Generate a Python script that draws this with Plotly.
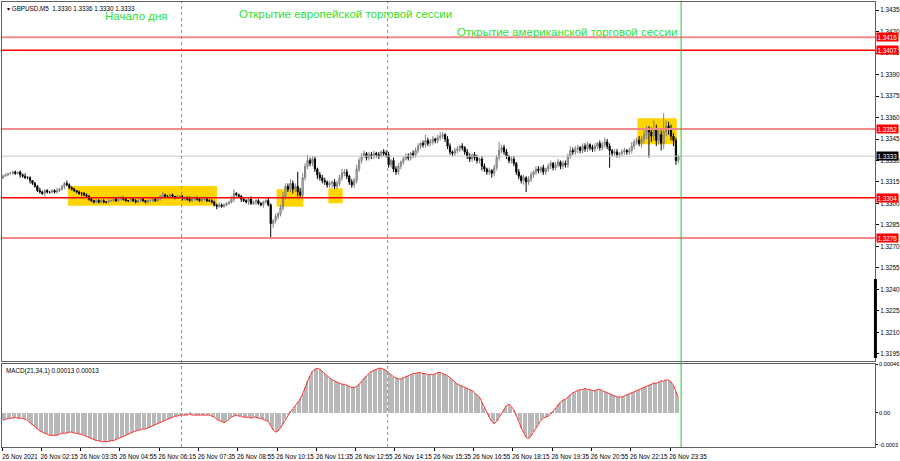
import plotly.graph_objects as go

# ---------------- data (pips above 1.3300 for price, 1e-5 units for MACD) ----------------
BASE = 1.3300
first_open = 18
closes = [
    19, 20, 21, 21, 22, 21, 22,
    20, 19, 18, 18, 16,
    14, 12,
    9, 8, 7, 9, 8, 8, 9, 8, 9, 10,
    12, 14, 13,
    11, 10, 9, 8, 7, 7, 6, 5,
    3, 2, 1, 2, 1, 2, 1, 1, 2, 2, 3, 2, 3, 4, 3, 2, 2, 3, 2, 1, 2, 3, 2, 1, 2, 2, 3, 2, 3,
    5, 6, 5, 5, 6, 5, 4, 5, 5,
    3, 4, 3, 2, 3, 4, 3, 2, 3, 3, 2, 2, 1,
    -1, -2, -1, -2, -1, 0, 1, 3,
    7, 6, 5, 3,
    2, 1, 3, 0, 1, 2, 0, -1, 1, 2, -1,
    -14,
    -12, -9, -7, -3,
    5, 12, 10,
    14, 10, 12, 8, 6,
    18, 26, 30, 28, 31,
    24, 20, 18, 16,
    15, 13, 14, 15, 12, 14,
    18, 21, 22, 19,
    15, 13, 16,
    24, 30,
    33, 35, 32, 34, 33, 35, 34, 33, 36, 35, 34,
    27, 30, 24, 22, 26,
    29, 31, 33, 32, 35, 34, 37,
    40, 42, 41, 44, 42, 43, 45, 44,
    46, 47, 48, 45,
    40, 36, 35, 37,
    38, 40, 39, 36,
    33, 31, 34, 32, 30, 31,
    26, 24, 22, 23, 21, 25,
    32, 37, 39, 36,
    33, 30, 31, 28,
    22, 19, 16, 18, 15, 17,
    20, 22, 24, 23, 25, 22, 24,
    26, 28, 25, 27, 29, 26, 28, 27,
    33, 37, 36, 38,
    39, 37, 40, 38, 41, 39, 38,
    40, 42, 39, 41, 43, 40,
    37, 35, 36, 34,
    35, 36, 37, 36, 37,
    40, 43, 44, 42, 45,
    48, 51, 50, 47, 52,
    44, 48, 42,
    50, 54, 52,
    47, 44, 30, 33,
]
up_wick = [
    1, 1, 0, 1, 1, 1, 0, 1, 1, 2, 1, 1, 0, 1, 1, 2, 1, 1, 1, 0,
    1, 1, 2, 1, 1, 1, 2, 1, 1, 1, 0, 1, 1, 1, 1, 1, 1, 0, 1, 1,
    1, 1, 0, 1, 1, 1, 1, 2, 1, 1, 1, 0, 1, 1, 1, 1, 1, 1, 0, 1,
    1, 1, 1, 1, 1, 2, 1, 1, 1, 1, 0, 1, 1, 1, 1, 1, 2, 1, 1, 1,
    1, 0, 1, 1, 1, 1, 1, 1, 2, 1, 1, 1, 1, 2, 3, 1, 1, 1, 1, 1,
    1, 2, 1, 1, 1, 1, 1, 1, 2, 1, 1, 2, 1, 2, 3, 2, 2, 3, 2, 2,
    10, 3, 3, 2, 4, 2, 2, 2, 1, 2, 2, 2, 1, 2, 1, 2, 2, 2, 3, 2,
    2, 1, 2, 2, 3, 2, 2, 2, 1, 2, 2, 2, 1, 2, 1, 2, 2, 2, 1, 2,
    2, 2, 1, 2, 2, 2, 1, 2, 2, 2, 1, 2, 4, 2, 2, 2, 1, 2, 3, 2,
    1, 2, 2, 1, 2, 2, 1, 2, 1, 2, 2, 1, 2, 2, 1, 2, 2, 1, 2, 1,
    2, 2, 6, 2, 2, 2, 1, 2, 2, 1, 2, 1, 2, 1, 2, 2, 1, 2, 2, 1,
    2, 1, 2, 2, 1, 2, 2, 1, 2, 2, 2, 3, 2, 2, 2, 1, 2, 2, 2, 1,
    2, 2, 1, 2, 2, 3, 2, 2, 1, 2, 2, 1, 2, 2, 1, 2, 3, 2, 2, 3,
    2, 4, 3, 3, 3, 6, 3, 4, 3, 13, 4, 3, 3, 2, 2, 1,
]
down_wick = [
    1, 0, 1, 1, 1, 1, 1, 2, 1, 1, 1, 2, 1, 1, 1, 1, 1, 2, 1, 1,
    1, 1, 1, 1, 1, 2, 1, 1, 1, 1, 1, 1, 2, 1, 1, 1, 1, 1, 1, 1,
    1, 1, 1, 1, 1, 1, 1, 1, 1, 1, 1, 1, 1, 1, 1, 1, 1, 1, 1, 1,
    1, 1, 1, 1, 1, 1, 1, 1, 1, 1, 1, 1, 1, 1, 1, 1, 1, 1, 1, 1,
    1, 1, 1, 1, 1, 1, 1, 2, 1, 1, 1, 1, 1, 1, 2, 1, 1, 2, 1, 1,
    2, 1, 1, 2, 1, 1, 2, 1, 1, 10, 3, 2, 2, 2, 2, 2, 2, 2, 3, 2,
    3, 2, 3, 2, 2, 2, 2, 2, 3, 2, 2, 2, 2, 2, 3, 2, 2, 2, 2, 2,
    2, 2, 2, 2, 2, 2, 2, 1, 2, 2, 2, 2, 2, 2, 1, 2, 2, 2, 2, 2,
    2, 2, 2, 2, 1, 2, 2, 2, 2, 2, 2, 2, 2, 2, 2, 2, 2, 2, 2, 2,
    2, 2, 2, 2, 2, 2, 2, 2, 2, 2, 2, 2, 2, 2, 2, 3, 2, 2, 2, 3,
    2, 2, 2, 2, 2, 2, 2, 2, 2, 2, 2, 2, 3, 7, 2, 2, 2, 2, 2, 2,
    2, 2, 2, 2, 2, 2, 2, 2, 2, 2, 2, 2, 2, 2, 3, 2, 2, 2, 2, 2,
    2, 2, 2, 2, 2, 2, 2, 12, 2, 2, 2, 2, 2, 2, 2, 2, 2, 2, 2, 2,
    3, 3, 3, 18, 4, 3, 4, 3, 5, 4, 3, 4, 3, 4, 3, 2,
]
macd = [
    -7, -6, -5,
    -5, -5, -4, -5, -5, -5,
    -6, -7, -9,
    -11, -13, -15, -17, -18,
    -19, -20, -21, -21, -21, -21, -20, -19, -19,
    -19, -18, -18, -19, -19, -20, -20, -21,
    -22, -23, -24, -25,
    -26, -26, -27, -27, -27, -27, -26, -26, -25,
    -24, -23, -22, -21, -20, -19, -18, -17, -16, -16,
    -15, -15, -14, -13, -12, -11, -10, -9, -8, -7,
    -6, -5, -4, -3, -3,
    -2, -2, -2, -2, -1, -2, -2, -2, -2, -2, -2, -2, -2, -3, -4,
    -6, -7, -8, -9, -8, -6, -4,
    -3, -2, -3, -3, -4,
    -4, -4, -5, -4, -4, -5, -5, -6, -7, -8,
    -12, -16, -18, -17, -14,
    -10, -6, -2, 1, 4, 7, 10, 13,
    18, 24, 30, 35, 39, 41, 42,
    41, 39, 37, 35, 33, 31, 30, 29, 28, 27, 27, 26,
    25, 24, 24, 25, 27,
    30, 33, 35, 37, 39, 40, 41, 42, 42, 41, 40,
    38, 36, 34, 33, 32, 32,
    33, 34, 35, 36, 37, 37, 38, 38, 37, 37, 36, 36, 36, 37,
    38, 38, 37, 36, 35, 33, 31, 29,
    27, 26, 25, 24, 23, 22, 21, 19, 17, 15,
    10, 5, 0, -4, -8, -10,
    -8, -4, 0, 4, 7, 8, 6, 3,
    -2, -8, -14, -19, -23, -24,
    -22, -18, -14, -10, -7, -5, -4,
    -3, -1, 2, 5, 8, 10, 12, 13,
    15, 17, 19, 20, 21, 22, 22, 23, 22, 22, 21,
    21, 22, 22, 21, 20, 19, 18, 17, 16, 15,
    15, 15, 16, 17, 18, 19, 20, 21, 22, 23,
    24, 25, 26, 27, 28, 28, 29, 30, 30, 31, 31,
    29, 26, 20, 14,
]

x_labels = ["26 Nov 2021", "26 Nov 02:15", "26 Nov 03:35", "26 Nov 04:55", "26 Nov 06:15",
            "26 Nov 07:35", "26 Nov 08:55", "26 Nov 10:15", "26 Nov 11:35", "26 Nov 12:55",
            "26 Nov 14:15", "26 Nov 15:35", "26 Nov 16:55", "26 Nov 18:15", "26 Nov 19:35",
            "26 Nov 20:55", "26 Nov 22:15", "26 Nov 23:35"]
price_ticks = [1.3195, 1.3210, 1.3225, 1.3240, 1.3255, 1.3270, 1.3285, 1.3300, 1.3315,
               1.3330, 1.3345, 1.3360, 1.3375, 1.3390, 1.3405, 1.3420, 1.3435]
levels = [1.3416, 1.3407, 1.3352, 1.3304, 1.3276]
level_strong = [False, True, False, True, False]
current_price = 1.3333
# zones: (first bar, last bar, top pips, bottom pips)
zones = [(26.5, 87.1, 12.2, -1.5), (111.4, 122.3, 10.0, -2.2),
         (132.5, 138.3, 10.6, 0.1), (258.3, 274.3, 59.4, 41.3)]
session_dashed = [72.7, 156.6]
session_solid = 276.1
texts = [("Начало дня", 40.7, 1.34308), ("Открытие европейской торговой сессии", 95.3, 1.34322),
         ("Открытие американской торговой сессии", 184.0, 1.34197)]
macd_ticks = [0.00046, 0.0, -0.0003]
macd_ticktext = ["0.00046", "0.00", "-0.0003"]

assert len(closes) == len(up_wick) == len(down_wick) == len(macd)

# ---------------- build ----------------
n = len(closes)
xs = list(range(n))
opens_p = [first_open] + closes[:-1]
o = [BASE + v / 10000 for v in opens_p]
c = [BASE + v / 10000 for v in closes]
h = [BASE + (max(a, b) + u) / 10000 for a, b, u in zip(opens_p, closes, up_wick)]
l = [BASE + (min(a, b) - d) / 10000 for a, b, d in zip(opens_p, closes, down_wick)]
m = [v * 1e-5 for v in macd]

FONT = "Liberation Sans"
SMALL = 6.3
fig = go.Figure()
fig.add_trace(go.Candlestick(
    x=xs, open=o, high=h, low=l, close=c, xaxis="x", yaxis="y",
    increasing=dict(line=dict(color="#808080", width=1), fillcolor="#c4c4c4"),
    decreasing=dict(line=dict(color="#000000", width=1), fillcolor="#000000"),
    whiskerwidth=0, showlegend=False, hoverinfo="skip"))
fig.add_trace(go.Bar(x=xs, y=m, xaxis="x2", yaxis="y2", width=0.45,
                     marker=dict(color="#b8b8b8", line=dict(width=0)),
                     showlegend=False, hoverinfo="skip"))
fig.add_trace(go.Scatter(x=xs, y=m, xaxis="x2", yaxis="y2", mode="lines",
                         line=dict(color="#ff3030", width=1),
                         showlegend=False, hoverinfo="skip"))

XR = [-0.41, 355.05]
LINE = "#606060"
shapes = []
for x0, x1, top, bot in zones:
    shapes.append(dict(type="rect", xref="x", yref="y", x0=x0, x1=x1,
                       y0=BASE + bot / 10000, y1=BASE + top / 10000,
                       fillcolor="#ffd400", line=dict(width=0), layer="below"))
shapes.append(dict(type="line", xref="paper", yref="y", x0=0, x1=1,
                   y0=current_price, y1=current_price, line=dict(color="#c8c8c8", width=1)))
for lv, strong in zip(levels, level_strong):
    shapes.append(dict(type="line", xref="paper", yref="y", x0=0, x1=1, y0=lv, y1=lv,
                       line=dict(color="#ff0000" if strong else "#f38a8a",
                                 width=1.5 if strong else 2)))
for sx in session_dashed:
    shapes.append(dict(type="line", xref="x", yref="paper", x0=sx, x1=sx, y0=0, y1=1,
                       line=dict(color="#33cc33", width=1, dash="dot")))
shapes.append(dict(type="line", xref="x", yref="paper", x0=session_solid, x1=session_solid,
                   y0=0, y1=1, line=dict(color="#22cc22", width=1)))
shapes.append(dict(type="line", xref="paper", yref="y", x0=1.0005, x1=1.0005,
                   y0=1.31922, y1=1.32473, line=dict(color="#000000", width=3)))

annotations = []
for txt, bx, py in texts:
    annotations.append(dict(text=txt, x=bx, y=py, xref="x", yref="y", xanchor="left",
                            yanchor="middle", showarrow=False,
                            font=dict(family=FONT, size=11.5, color="#2fe02f")))
for lv, strong in zip(levels, level_strong):
    annotations.append(dict(text=f"{lv:.4f}", x=1, y=lv, xref="paper", yref="y",
                            xanchor="left", yanchor="middle", showarrow=False, xshift=1,
                            bgcolor="#ff0000", borderpad=0.5,
                            font=dict(family=FONT, size=SMALL, color="#ffffff")))
annotations.append(dict(text=f"{current_price:.4f}", x=1, y=current_price, xref="paper",
                        yref="y", xanchor="left", yanchor="middle", showarrow=False,
                        xshift=1, bgcolor="#000000", borderpad=0.5,
                        font=dict(family=FONT, size=SMALL, color="#ffffff")))
annotations.append(dict(text="▾ GBPUSD,M5  1.3330 1.3336 1.3330 1.3333", x=0, y=1,
                        xref="paper", yref="paper", xanchor="left", yanchor="top",
                        showarrow=False, xshift=3, yshift=-1,
                        font=dict(family=FONT, size=SMALL, color="#000000")))
annotations.append(dict(text="MACD(21,34,1) 0.00013 0.00013", x=0, y=1,
                        xref="x2 domain", yref="y2 domain", xanchor="left", yanchor="top",
                        showarrow=False, xshift=2, yshift=-1,
                        font=dict(family=FONT, size=SMALL, color="#000000")))

tick_bars = [16 * k - 0.4 for k in range(len(x_labels))]

fig.update_layout(
    width=900, height=461, margin=dict(l=2, r=25, t=2, b=14, autoexpand=False),
    paper_bgcolor="white", plot_bgcolor="white",
    font=dict(family=FONT, size=SMALL, color="#000000"),
    shapes=shapes, annotations=annotations, bargap=0,
    xaxis=dict(domain=[0, 1], anchor="y", range=XR, showgrid=False, zeroline=False,
               showticklabels=False, ticks="", showline=True, mirror=True, automargin=False,
               linecolor=LINE, linewidth=1, rangeslider=dict(visible=False)),
    yaxis=dict(domain=[0.1933, 1], anchor="x", side="right", range=[1.31901, 1.34406],
               tickvals=price_ticks, ticktext=[f"{t:.4f}" for t in price_ticks],
               showgrid=False, zeroline=False, ticks="outside", ticklen=3, automargin=False,
               tickcolor="#000000", showline=True, mirror=True, linecolor=LINE,
               linewidth=1, tickfont=dict(family=FONT, size=SMALL, color="#000000")),
    xaxis2=dict(domain=[0, 1], anchor="y2", range=XR, matches="x", showgrid=False,
                zeroline=False, tickvals=tick_bars, ticktext=x_labels, ticks="outside",
                ticklen=3, tickcolor="#000000", showline=True, mirror=True,
                linecolor=LINE, linewidth=1, ticklabelshift=18, tickangle=0,
                automargin=False,
                tickfont=dict(family=FONT, size=SMALL, color="#000000")),
    yaxis2=dict(domain=[0, 0.1865], anchor="x2", side="right", range=[-0.00032, 0.00046],
                tickvals=macd_ticks, ticktext=macd_ticktext, showgrid=False,
                zeroline=False, ticks="outside", ticklen=2, tickcolor="#000000",
                showline=True, mirror=True, linecolor=LINE, linewidth=1, automargin=False,
                ticklabelstandoff=0,
                tickfont=dict(family=FONT, size=5.6, color="#000000")),
)

fig.write_html("out.html", config={"displayModeBar": False},
               post_script="document.body.style.margin='0';document.body.style.overflow='hidden';")
